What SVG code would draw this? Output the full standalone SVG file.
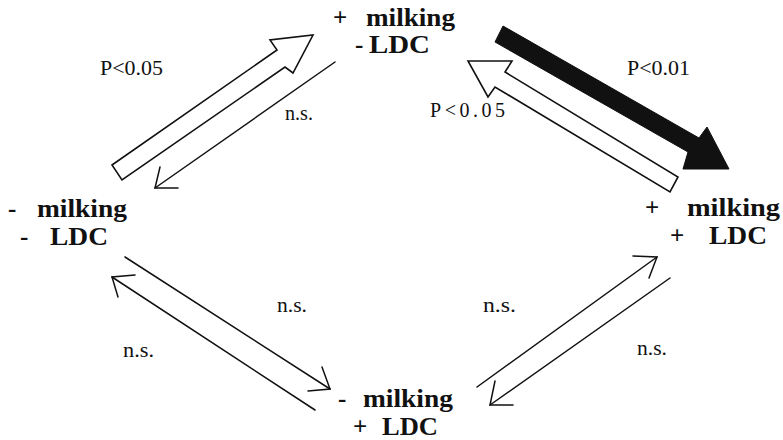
<svg xmlns="http://www.w3.org/2000/svg" width="783" height="440" viewBox="0 0 783 440">
<style>
.node{font-family:"Liberation Serif","Times New Roman",serif;font-weight:bold;font-size:25px;fill:#111}
.lbl{font-family:"Liberation Serif","Times New Roman",serif;font-size:20px;fill:#111}
.thin{fill:none;stroke:#111;stroke-width:1.5;stroke-linecap:round;stroke-linejoin:miter}
.hollow{fill:#fff;stroke:#111;stroke-width:1.6;stroke-linejoin:miter}
.solid{fill:#111;stroke:#111;stroke-width:1}
</style>
<rect width="783" height="440" fill="#fff"/>
<g id="connectors">
  <g id="c-left-top">
    <polygon class="hollow" points="112,165 277,50 270,40 313,35 293,73 285,67 122,180"/>
  </g>
  <g id="c-top-left">
    <line class="thin" x1="335" y1="62" x2="155" y2="188"/>
    <polyline class="thin" points="160,167 155,188 178,188"/>
  </g>
  <g id="c-top-right">
    <polygon class="solid" points="503,26 699,138 707,127 729,169 683,169 688,152 495,42"/>
  </g>
  <g id="c-right-top">
    <polygon class="hollow" points="468,61 512,61 505,72 678,177 670,192 495,87 488,97"/>
  </g>
  <g id="c-left-bottom">
    <line class="thin" x1="125" y1="257" x2="330" y2="389"/>
    <polyline class="thin" points="322,367 330,389 308,391"/>
  </g>
  <g id="c-bottom-left">
    <line class="thin" x1="315" y1="410" x2="112" y2="277"/>
    <polyline class="thin" points="135,275 112,277 118,297"/>
  </g>
  <g id="c-bottom-right">
    <line class="thin" x1="477" y1="387" x2="657" y2="257"/>
    <polyline class="thin" points="633,256 657,257 649,278"/>
  </g>
  <g id="c-right-bottom">
    <line class="thin" x1="670" y1="278" x2="490" y2="405"/>
    <polyline class="thin" points="495,381 490,405 513,405"/>
  </g>
</g>
<g id="labels">
  <text class="lbl" x="100" y="75" textLength="63" lengthAdjust="spacingAndGlyphs">P&lt;0.05</text>
  <text class="lbl" x="285" y="120" textLength="28" lengthAdjust="spacingAndGlyphs">n.s.</text>
  <text class="lbl" x="627" y="75" textLength="63" lengthAdjust="spacingAndGlyphs">P&lt;0.01</text>
  <text class="lbl" x="430" y="117" textLength="75" lengthAdjust="spacing">P&lt;0.05</text>
  <text class="lbl" x="277" y="312" textLength="30" lengthAdjust="spacingAndGlyphs">n.s.</text>
  <text class="lbl" x="123" y="357" textLength="31" lengthAdjust="spacingAndGlyphs">n.s.</text>
  <text class="lbl" x="483" y="312" textLength="33" lengthAdjust="spacingAndGlyphs">n.s.</text>
  <text class="lbl" x="637" y="355" textLength="30" lengthAdjust="spacingAndGlyphs">n.s.</text>
</g>
<g id="node-top">
  <text class="node" x="333" y="26">+</text>
  <text class="node" x="366" y="26" textLength="89" lengthAdjust="spacingAndGlyphs">milking</text>
  <text class="node" x="355" y="53">-</text>
  <text class="node" x="369" y="53" textLength="61" lengthAdjust="spacingAndGlyphs">LDC</text>
</g>
<g id="node-left">
  <text class="node" x="8" y="217">-</text>
  <text class="node" x="37" y="217" textLength="90" lengthAdjust="spacingAndGlyphs">milking</text>
  <text class="node" x="20" y="245">-</text>
  <text class="node" x="50" y="245" textLength="58" lengthAdjust="spacingAndGlyphs">LDC</text>
</g>
<g id="node-right">
  <text class="node" x="645" y="216">+</text>
  <text class="node" x="687" y="216" textLength="93" lengthAdjust="spacingAndGlyphs">milking</text>
  <text class="node" x="670" y="244">+</text>
  <text class="node" x="709" y="244" textLength="58" lengthAdjust="spacingAndGlyphs">LDC</text>
</g>
<g id="node-bottom">
  <text class="node" x="338" y="407">-</text>
  <text class="node" x="363" y="407" textLength="90" lengthAdjust="spacingAndGlyphs">milking</text>
  <text class="node" x="353" y="435">+</text>
  <text class="node" x="382" y="435" textLength="56" lengthAdjust="spacingAndGlyphs">LDC</text>
</g>
</svg>
